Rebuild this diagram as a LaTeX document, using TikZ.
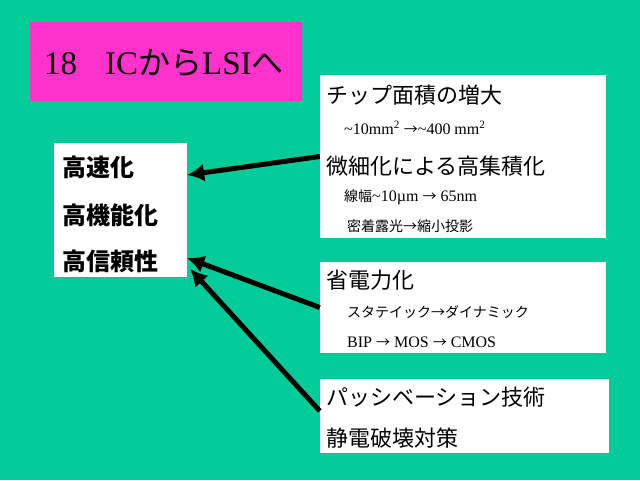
\documentclass[tikz,border=0pt]{standalone}
\usepackage{fontspec}
\setmainfont{Liberation Serif}
\newfontfamily\jpfont{Noto Sans CJK JP}
\usepackage{xcolor}
\usepackage{tikz}
\usetikzlibrary{arrows.meta,positioning,calc}
\definecolor{slidegreen}{RGB}{0,204,153}
\definecolor{slidemagenta}{RGB}{255,51,204}
\newcommand{\jps}[1]{{\jpfont\fontsize{14}{17}\selectfont #1}}
\newcommand{\jpt}[1]{{\jpfont\fontsize{32}{36}\selectfont #1}}

\begin{document}
\begin{tikzpicture}[x=1pt,y=-1pt,>=Latex,
  panel/.style={fill=white, inner sep=0pt},
  heading/.style={anchor=west, inner sep=0pt, font=\jpfont\fontsize{22}{26}\selectfont},
  subline/.style={anchor=west, inner sep=0pt, font=\fontsize{16}{19}\selectfont},
  merititem/.style={anchor=west, inner sep=0pt, font=\jpfont\bfseries\fontsize{24}{28}\selectfont},
  bigarrow/.style={-{Latex[length=17pt,width=18pt]}, line width=5pt}]
\fill[slidegreen] (0,0) rectangle (640,480);
\useasboundingbox (0,0) rectangle (640,480);
\node[fill=slidemagenta, inner sep=0pt, minimum width=272, minimum height=79] (title) at (166,61.5) {};
\node[anchor=west, inner sep=0pt, font=\fontsize{33}{38}\selectfont] (titletext) at (44,63)
  {18\hspace{28pt}IC\jpt{から}LSI\jpt{へ}};
\node[panel, minimum width=133, minimum height=134] (merit) at (120.5,210) {};
\node[merititem] (speed) at (62,167) {高速化};
\node[merititem] (func) at (62,215) {高機能化};
\node[merititem] (reliab) at (62,261) {高信頼性};
\node[panel, minimum width=286, minimum height=163] (chip) at (463,156.5) {};
\node[heading] (area) at (326,95) {チップ面積の増大};
\node[subline] (areanum) at (344,128) {\textasciitilde10mm\textsuperscript{2} \jps{→}\textasciitilde400 mm\textsuperscript{2}};
\node[heading] (integ) at (326,166) {微細化による高集積化};
\node[subline] (width) at (344,197) {\jps{線幅}\textasciitilde10µm \jps{→} 65nm};
\node[subline] (expo) at (347,226) {\jps{密着露光→縮小投影}};
\node[panel, minimum width=286, minimum height=91] (power) at (463,307.5) {};
\node[heading] (lowpow) at (326,280) {省電力化};
\node[subline] (dyn) at (347,312) {\jps{スタテイック→ダイナミック}};
\node[subline] (cmos) at (347,342) {BIP \jps{→} MOS \jps{→} CMOS};
\node[panel, minimum width=289, minimum height=74] (protect) at (464.5,416) {};
\node[heading] (passiv) at (326,397) {パッシベーション技術};
\node[heading] (esd) at (326,438) {静電破壊対策};
\draw[bigarrow] (chip.west) -- ([yshift=-8pt]merit.east |- speed);
\draw[bigarrow] (power.west) -- ([yshift=3pt]merit.east |- reliab);
\draw[bigarrow] ([yshift=5pt]protect.west) -- ([xshift=3pt,yshift=-8pt]merit.east |- reliab);
\end{tikzpicture}
\end{document}
